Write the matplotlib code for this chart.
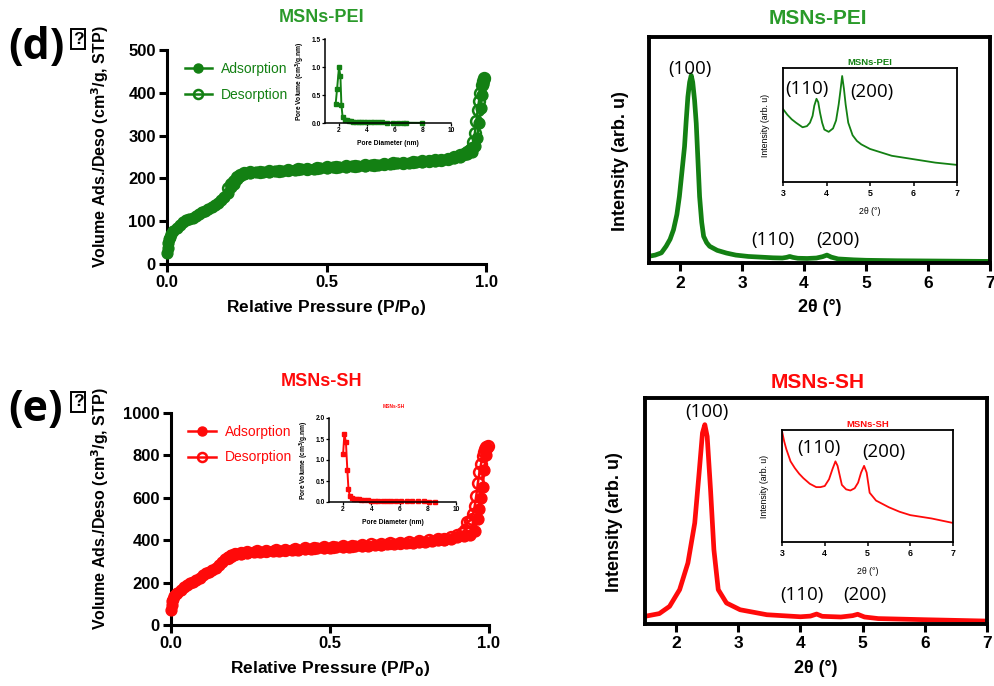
import numpy as np
import matplotlib
matplotlib.use("Agg")
from matplotlib import pyplot as plt

plt.rcParams['font.family'] = ['Liberation Sans', 'DejaVu Sans']

GREEN = '#138013'
GREEN_T = '#2a9a2a'
RED = '#ff0a0a'

# ---- N2 isotherms, MSNs-PEI ----
p_ads_pei = [0.001, 0.002, 0.004, 0.006, 0.009, 0.013, 0.02, 0.03, 0.04, 0.05, 0.06, 0.07,
             0.08, 0.09, 0.10, 0.11, 0.12, 0.13, 0.14, 0.15, 0.16, 0.17, 0.18, 0.19, 0.20,
             0.21, 0.22, 0.23, 0.24, 0.26, 0.28, 0.30, 0.32, 0.34, 0.36, 0.38, 0.40, 0.42,
             0.44, 0.46, 0.48, 0.50, 0.52, 0.54, 0.56, 0.58, 0.60, 0.62, 0.64, 0.66, 0.68,
             0.70, 0.72, 0.74, 0.76, 0.78, 0.80, 0.82, 0.84, 0.86, 0.88, 0.90, 0.92, 0.94,
             0.955, 0.965, 0.972, 0.978, 0.983, 0.987, 0.991, 0.995]
v_ads_pei = [26, 38, 50, 58, 64, 70, 77, 84, 91, 97, 102, 105, 108, 112, 117, 121, 125, 129,
             133, 138, 143, 149, 156, 166, 180, 188, 199, 206, 210, 213, 214, 215, 216, 217,
             218, 219, 220, 221, 222, 223, 224, 225, 226, 227, 227, 228, 229, 230, 231, 232,
             233, 234, 235, 236, 237, 238, 239, 240, 241, 243, 245, 248, 251, 256, 262, 275,
             294, 330, 365, 395, 420, 432]
p_des_pei = [0.995, 0.99, 0.986, 0.982, 0.978, 0.974, 0.97, 0.965, 0.96, 0.955, 0.95, 0.94,
             0.93, 0.92, 0.90, 0.88, 0.86, 0.84, 0.82, 0.80, 0.77, 0.74, 0.71, 0.68, 0.65,
             0.62, 0.59, 0.56, 0.53, 0.50, 0.47, 0.44, 0.41, 0.38, 0.35, 0.32, 0.29, 0.26,
             0.24, 0.23, 0.22, 0.21, 0.20, 0.19]
v_des_pei = [434, 428, 418, 400, 380, 360, 335, 305, 285, 272, 266, 262, 258, 254, 250, 246,
             244, 242, 241, 240, 238, 237, 235, 234, 232, 231, 229, 228, 227, 226, 224, 223,
             221, 220, 218, 217, 216, 214, 212, 208, 203, 195, 186, 178]

# ---- N2 isotherms, MSNs-SH ----
p_ads_sh = [0.001, 0.002, 0.004, 0.007, 0.01, 0.015, 0.02, 0.03, 0.04, 0.05, 0.06, 0.07,
            0.08, 0.09, 0.10, 0.11, 0.12, 0.13, 0.14, 0.15, 0.16, 0.17, 0.18, 0.19, 0.20,
            0.22, 0.24, 0.26, 0.28, 0.30, 0.32, 0.34, 0.36, 0.38, 0.40, 0.42, 0.44, 0.46,
            0.48, 0.50, 0.52, 0.54, 0.56, 0.58, 0.60, 0.62, 0.64, 0.66, 0.68, 0.70, 0.72,
            0.74, 0.76, 0.78, 0.80, 0.82, 0.84, 0.86, 0.88, 0.90, 0.92, 0.94, 0.955, 0.965,
            0.97, 0.975, 0.98, 0.985, 0.99, 0.995]
v_ads_sh = [70, 95, 112, 125, 135, 145, 152, 166, 178, 188, 197, 205, 214, 224, 234, 243, 251,
            260, 270, 283, 297, 309, 320, 328, 333, 337, 341, 343, 345, 347, 348, 350, 352,
            354, 356, 357, 359, 361, 363, 365, 366, 368, 370, 371, 373, 375, 377, 379, 381,
            383, 385, 387, 389, 391, 393, 396, 399, 403, 408, 414, 420, 426, 445, 500, 549,
            600, 650, 730, 800, 835]
p_des_sh = [0.996, 0.992, 0.988, 0.984, 0.98, 0.975, 0.97, 0.965, 0.96, 0.955, 0.95, 0.945,
            0.94, 0.932, 0.925, 0.915, 0.90, 0.88, 0.86, 0.84, 0.81, 0.78, 0.75, 0.72, 0.69,
            0.66, 0.63, 0.60, 0.57, 0.54, 0.51, 0.48, 0.45, 0.42, 0.39, 0.36, 0.33, 0.30,
            0.27, 0.24, 0.22, 0.20, 0.19, 0.18]
v_des_sh = [845, 840, 830, 815, 795, 760, 720, 670, 610, 560, 525, 500, 492, 486, 450, 435,
            425, 415, 408, 404, 400, 396, 392, 389, 386, 383, 380, 377, 375, 372, 369, 367,
            364, 361, 358, 356, 353, 350, 347, 344, 340, 335, 326, 316]

# ---- BJH pore size distributions (insets) ----
d_pei = [1.76, 1.86, 2.0, 2.1, 2.17, 2.26, 2.4, 2.55, 2.7, 2.85, 3.0, 3.2, 3.4, 3.6, 3.8,
         4.0, 4.25, 4.5, 4.8, 5.1, 5.45, 5.85, 6.2, 6.57, 6.8, 7.95]
pv_pei = [0.34, 0.6, 1.0, 0.84, 0.33, 0.1, 0.06, 0.045, 0.035, 0.03, 0.025, 0.022, 0.02,
          0.018, 0.016, 0.014, 0.012, 0.011, 0.01, 0.009, 0.008, 0.007, 0.006, 0.005,
          0.005, 0.003]
d_sh = [2.0, 2.09, 2.2, 2.3, 2.38, 2.47, 2.6, 2.75, 2.9, 3.1, 3.3, 3.5, 3.75, 4.0, 4.25,
        4.5, 4.8, 5.1, 5.4, 5.75, 6.1, 6.5, 6.9, 7.3, 7.7, 8.1, 8.54]
pv_sh = [1.15, 1.62, 1.42, 0.76, 0.3, 0.15, 0.1, 0.08, 0.07, 0.06, 0.05, 0.045, 0.04, 0.035,
         0.032, 0.03, 0.027, 0.025, 0.022, 0.02, 0.018, 0.016, 0.015, 0.013, 0.012, 0.011,
         0.01]

# ---- SAXS / low-angle XRD, MSNs-PEI ----
tt_pei = [1.5, 1.6, 1.7, 1.776, 1.84, 1.895, 1.95, 1.99, 2.03, 2.073, 2.10, 2.127, 2.155,
          2.181, 2.205, 2.235, 2.262, 2.29, 2.316, 2.35, 2.381, 2.43, 2.478, 2.6, 2.749,
          2.9, 3.1, 3.3, 3.5, 3.65, 3.72, 3.77, 3.82, 3.9, 4.05, 4.2, 4.3, 4.37, 4.44,
          4.55, 4.8, 5.0, 5.5, 6.0, 6.5, 7.0]
i_pei = [0.030, 0.035, 0.045, 0.074, 0.105, 0.147, 0.215, 0.294, 0.40, 0.515, 0.63, 0.735,
         0.80, 0.83, 0.80, 0.72, 0.618, 0.45, 0.294, 0.18, 0.118, 0.09, 0.074, 0.056, 0.044,
         0.035, 0.029, 0.026, 0.023, 0.022, 0.025, 0.029, 0.025, 0.021, 0.020, 0.022, 0.028,
         0.035, 0.026, 0.018, 0.014, 0.012, 0.010, 0.009, 0.008, 0.007]
tt_pei_in = [3.0, 3.1, 3.2, 3.3, 3.45, 3.55, 3.62, 3.68, 3.72, 3.77, 3.81, 3.85, 3.9, 3.95,
             4.05, 4.15, 4.22, 4.28, 4.32, 4.36, 4.40, 4.44, 4.5, 4.6, 4.7, 4.8, 5.0, 5.25,
             5.5, 5.75, 6.0, 6.25, 6.5, 6.75, 7.0]
i_pei_in = [0.64, 0.59, 0.55, 0.52, 0.48, 0.49, 0.52, 0.58, 0.67, 0.73, 0.70, 0.61, 0.52,
            0.46, 0.44, 0.47, 0.54, 0.68, 0.80, 0.93, 0.82, 0.68, 0.52, 0.41, 0.36, 0.33,
            0.29, 0.26, 0.23, 0.215, 0.20, 0.185, 0.17, 0.16, 0.15]

# ---- SAXS / low-angle XRD, MSNs-SH ----
tt_sh = [1.5, 1.73, 1.895, 2.057, 2.19, 2.30, 2.37, 2.424, 2.462, 2.50, 2.554, 2.608, 2.678,
         2.81, 3.03, 3.46, 4.0, 4.16, 4.26, 4.35, 4.65, 4.84, 4.92, 5.03, 5.25, 6.0, 7.0]
i_sh = [0.034, 0.046, 0.078, 0.152, 0.27, 0.447, 0.668, 0.845, 0.882, 0.83, 0.594, 0.329,
        0.152, 0.093, 0.063, 0.041, 0.032, 0.035, 0.044, 0.034, 0.031, 0.037, 0.043, 0.031,
        0.024, 0.019, 0.013]
tt_sh_in = [3.0, 3.05, 3.1, 3.2, 3.3, 3.4, 3.5, 3.65, 3.8, 3.9, 4.0, 4.1, 4.18, 4.25, 4.3,
            4.4, 4.5, 4.6, 4.7, 4.78, 4.85, 4.92, 4.98, 5.05, 5.2, 5.35, 5.5, 5.75, 6.0,
            6.25, 6.5, 6.75, 7.0]
i_sh_in = [0.99, 0.90, 0.83, 0.72, 0.66, 0.61, 0.57, 0.52, 0.49, 0.49, 0.50, 0.56, 0.65,
           0.72, 0.68, 0.51, 0.47, 0.46, 0.48, 0.53, 0.62, 0.68, 0.62, 0.44, 0.37, 0.34,
           0.31, 0.27, 0.24, 0.225, 0.21, 0.19, 0.17]

W, H = 994, 686


def rect(l, r, t, b):
    return [l / W, 1 - b / H, (r - l) / W, (b - t) / H]


fig = plt.figure(figsize=(W / 100, H / 100), dpi=100)


def iso_axes(pos, col, pa, va, pd, vd, ymax, ystep, lab_x):
    ax = fig.add_axes(pos)
    ax.plot(pa, va, '-o', color=col, lw=1.8, ms=7.8, clip_on=False, label='Adsorption', zorder=3)
    ax.plot(pd, vd, '-o', color=col, lw=1.8, ms=7.8, mfc='none', mew=1.8, clip_on=False,
            label='Desorption', zorder=3)
    ax.set_xlim(0, 1.0)
    ax.set_ylim(0, ymax)
    ax.set_xticks([0, 0.5, 1.0])
    ax.set_xticklabels(['0.0', '0.5', '1.0'])
    ax.set_yticks(np.arange(0, ymax + 1, ystep))
    for s in ['top', 'right']:
        ax.spines[s].set_visible(False)
    for s in ['left', 'bottom']:
        ax.spines[s].set_linewidth(2.2)
    ax.tick_params(direction='out', length=6, width=2.2, labelsize=12, pad=2)
    for lb in ax.get_xticklabels() + ax.get_yticklabels():
        lb.set_fontweight('bold')
    ax.set_ylabel('Volume Ads./Deso (cm$^\\mathbf{3}$/g, STP)', fontsize=11.5, fontweight='bold')
    ax.yaxis.set_label_coords(lab_x, 0.55)
    ax.set_xlabel('Relative Pressure (P/P$_\\mathbf{0}$)', fontsize=12.5, fontweight='bold')
    ax.xaxis.set_label_coords(0.5, -0.16)
    leg = ax.legend(loc='upper left', bbox_to_anchor=(0.055, 0.945), frameon=False,
                    fontsize=10, labelcolor=col, handlelength=2.0, handletextpad=0.6,
                    labelspacing=0.85, borderpad=0, borderaxespad=0)
    for h in leg.legend_handles:
        h.set_markersize(6.5)
    return ax


def pore_axes(pos, col, d, pv, ymax, yticks):
    ax = fig.add_axes(pos)
    ax.plot(d, pv, '-s', color=col, lw=1.4, ms=2.6, clip_on=False)
    ax.set_xlim(1, 10)
    ax.set_ylim(0, ymax)
    ax.set_xticks([2, 4, 6, 8, 10])
    ax.set_yticks(yticks)
    ax.set_yticklabels(['%.1f' % v for v in yticks])
    for s in ['top', 'right']:
        ax.spines[s].set_visible(False)
    for s in ['left', 'bottom']:
        ax.spines[s].set_linewidth(1.1)
    ax.tick_params(direction='out', length=2, width=0.9, labelsize=4.8, pad=1)
    for lb in ax.get_xticklabels() + ax.get_yticklabels():
        lb.set_fontweight('bold')
    ax.set_ylabel('Pore Volume (cm$^\\mathbf{3}$/g.nm)', fontsize=4.8, fontweight='bold')
    ax.yaxis.set_label_coords(-0.14, 0.5)
    ax.set_xlabel('Pore Diameter (nm)', fontsize=4.8, fontweight='bold')
    ax.xaxis.set_label_coords(0.5, -0.2)
    ax.patch.set_alpha(0)
    return ax


def xrd_axes(pos, col, tt, ii, ymax, peaks, lab_x):
    ax = fig.add_axes(pos)
    ax.plot(tt, ii, '-', color=col, lw=3.4)
    ax.set_xlim(1.5, 7)
    ax.set_ylim(0, ymax)
    ax.set_xticks([2, 3, 4, 5, 6, 7])
    ax.set_yticks([])
    for s in ax.spines.values():
        s.set_linewidth(2.8)
    ax.tick_params(axis='x', direction='out', length=6, width=2.2, labelsize=12.5, pad=3)
    for lb in ax.get_xticklabels():
        lb.set_fontweight('bold')
    ax.set_ylabel('Intensity (arb. u)', fontsize=13, fontweight='bold')
    ax.yaxis.set_label_coords(lab_x, 0.45)
    ax.set_xlabel('2θ (°)', fontsize=13, fontweight='bold')
    ax.xaxis.set_label_coords(0.5, -0.16)
    for txt, x, y in peaks:
        ax.text(x, y, txt, fontsize=13.5, family='Open Sans', ha='center', va='center')
    return ax


def xrd_inset(pos, col, tt, ii, title, peaks):
    ax = fig.add_axes(pos)
    ax.plot(tt, ii, '-', color=col, lw=1.3)
    ax.set_xlim(3, 7)
    ax.set_ylim(0, 1.0)
    ax.set_xticks([3, 4, 5, 6, 7])
    ax.set_yticks([])
    for s in ax.spines.values():
        s.set_linewidth(1.3)
    ax.tick_params(axis='x', direction='out', length=3, width=1.1, labelsize=6.3, pad=2)
    for lb in ax.get_xticklabels():
        lb.set_fontweight('bold')
    ax.set_ylabel('Intensity (arb. u)', fontsize=6.3)
    ax.yaxis.set_label_coords(-0.075, 0.5)
    ax.set_xlabel('2θ (°)', fontsize=6.3)
    ax.xaxis.set_label_coords(0.5, -0.22)
    ax.set_title(title, fontsize=6.8, fontweight='bold', color=col, pad=2)
    for txt, x, y in peaks:
        ax.text(x, y, txt, fontsize=13.5, family='Open Sans', ha='center', va='center')
    return ax


# panel (d)
iso_axes(rect(167, 486, 50, 264), GREEN, p_ads_pei, v_ads_pei, p_des_pei, v_des_pei,
         500, 100, -0.175)
pore_axes(rect(325, 451, 39, 123), GREEN, d_pei, pv_pei, 1.5, [0.0, 0.5, 1.0, 1.5])
xrd_axes(rect(649, 990, 37, 263), GREEN, tt_pei, i_pei, 1.0,
         [('(100)', 2.16, 0.86), ('(110)', 3.5, 0.1), ('(200)', 4.55, 0.1)], -0.06)
xrd_inset(rect(783, 957, 68, 182), GREEN, tt_pei_in, i_pei_in, 'MSNs-PEI',
          [('(110)', 3.55, 0.82), ('(200)', 5.05, 0.79)])

# panel (e)
iso_axes(rect(171, 489, 413, 625), RED, p_ads_sh, v_ads_sh, p_des_sh, v_des_sh,
         1000, 200, -0.19)
pore_axes(rect(329, 456, 418, 502), RED, d_sh, pv_sh, 2.0, [0.0, 0.5, 1.0, 1.5, 2.0])
xrd_axes(rect(645, 987, 398, 624), RED, tt_sh, i_sh, 1.0,
         [('(100)', 2.5, 0.94), ('(110)', 4.02, 0.13), ('(200)', 5.04, 0.13)], -0.065)
xrd_inset(rect(782, 953, 430, 542), RED, tt_sh_in, i_sh_in, 'MSNs-SH',
          [('(110)', 3.87, 0.84), ('(200)', 5.38, 0.80)])

# titles and panel letters
fig.text(322 / W, 1 - 18 / H, 'MSNs-PEI', color=GREEN_T, fontsize=13, fontweight='bold',
         ha='center', va='center')
fig.text(818 / W, 1 - 18 / H, 'MSNs-PEI', color=GREEN_T, fontsize=15, fontweight='bold',
         ha='center', va='center')
fig.text(322 / W, 1 - 381 / H, 'MSNs-SH', color=RED, fontsize=13, fontweight='bold',
         ha='center', va='center')
fig.text(818 / W, 1 - 382 / H, 'MSNs-SH', color=RED, fontsize=15, fontweight='bold',
         ha='center', va='center')
fig.text(394 / W, 1 - 406 / H, 'MSNs-SH', color=RED, fontsize=3.5, fontweight='bold',
         ha='center', va='center')

for lab, yc in [('(d)', 47), ('(e)', 410)]:
    fig.text(8 / W, 1 - yc / H, lab, fontsize=31, fontweight='bold', family='Open Sans',
             ha='left', va='center')
    fig.text(78 / W, 1 - (yc - 8) / H, '?', fontsize=12.5, fontweight='bold', ha='center',
             va='center', bbox=dict(boxstyle='square,pad=0.12', fc='white', ec='black', lw=1.4))

fig.savefig('out.png', dpi=100)
